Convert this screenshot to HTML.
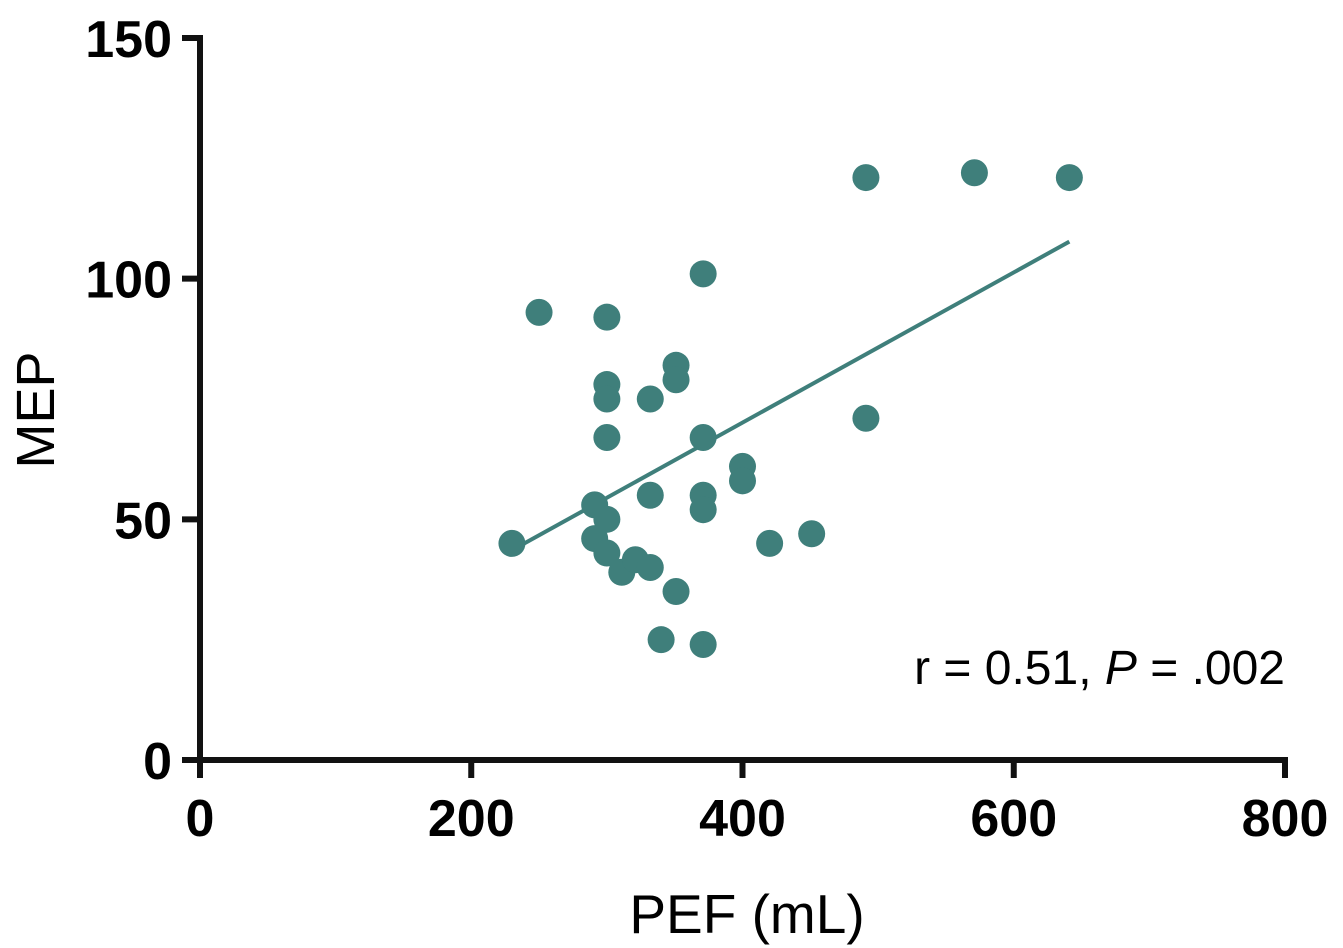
<!DOCTYPE html>
<html><head><meta charset="utf-8"><style>
body{margin:0;background:#fff}
svg{display:block;font-family:"Liberation Sans",Arial,sans-serif}
</style></head><body>
<svg id="chart" width="1343" height="948" viewBox="0 0 1343 948">
<g id="axes"></g><g id="marks"></g>
<text x="747" y="933" font-size="55" text-anchor="middle">PEF (mL)</text>
<text transform="translate(54,410) rotate(-90)" font-size="54" text-anchor="middle">MEP</text>
<text x="1285" y="684" font-size="48" text-anchor="end">r = 0.51, <tspan font-style="italic">P</tspan> = .002</text>
</svg>
<script>
const xTicks=[0,200,400,600,800];
const yTicks=[0,50,100,150];
const pefValues=[230,250,300,300,300,300,291,300,291,300,311,321,332,332,332,351,351,351,340,371,371,371,371,371,400,400,420,451,491,491,571,641];
const mepValues=[45,93,92,78,75,67,53,50,46,43,39,41.6,40,55,75,82,79,35,25,101,67,55,52,24,61,58,45,47,71,121,122,121];
const fitX=[236,641];
const fitY=[44.5,107.7];
const X=v=>200+v*(1085/800);
const Y=v=>760-v*(722/150);
const ns='http://www.w3.org/2000/svg';
const axes=document.getElementById('axes'),marks=document.getElementById('marks');
function mk(tag,attrs,parent){const e=document.createElementNS(ns,tag);for(const k in attrs)e.setAttribute(k,attrs[k]);parent.appendChild(e);return e;}
let l=mk('line',{x1:200,y1:Y(150)-3,x2:200,y2:763,stroke:'#111','stroke-width':6},axes);


l=mk('line',{x1:182,y1:760,x2:X(800)+3,y2:760,stroke:'#111','stroke-width':6},axes);


yTicks.forEach(t=>{
 const tk=mk('line',{x1:182,y1:Y(t),x2:200,y2:Y(t),stroke:'#111','stroke-width':6},axes);
 
 
 const tx=mk('text',{x:172,y:Y(t)+19,'font-size':52,'font-weight':'bold','text-anchor':'end'},axes);
 tx.textContent=t;
 
 
});
xTicks.forEach(t=>{
 const tk=mk('line',{x1:X(t),y1:760,x2:X(t),y2:778,stroke:'#111','stroke-width':6},axes);
 
 
 const tx=mk('text',{x:X(t),y:836,'font-size':52,'font-weight':'bold','text-anchor':'middle'},axes);
 tx.textContent=t;
 
 
});
const fl=mk('line',{x1:X(fitX[0]),y1:Y(fitY[0]),x2:X(fitX[1]),y2:Y(fitY[1]),stroke:'#3f7f7b','stroke-width':4},marks);


pefValues.forEach((v,i)=>{
 const c=mk('circle',{cx:X(v),cy:Y(mepValues[i]),r:13.5,fill:'#3f7f7b'},marks);
 
 
});
</script>
</body></html>
